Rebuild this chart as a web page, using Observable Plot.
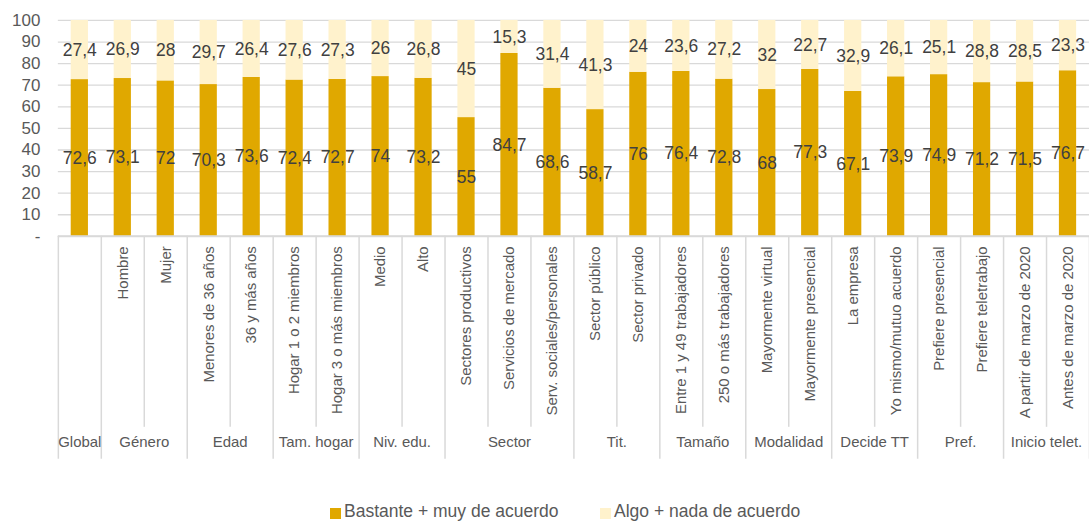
<!DOCTYPE html>
<html>
<head>
<meta charset="utf-8">
<script src="https://cdn.jsdelivr.net/npm/d3@7"></script>
<script src="https://cdn.jsdelivr.net/npm/@observablehq/plot@0.6"></script>
<style>
  html, body { margin: 0; padding: 0; background: #fff; overflow: hidden; width: 1089px; height: 522px; }
  #chart svg { display: block; }
  .legend { position: relative; height: 20px; margin-top: 2px; font: 17.5px "Liberation Sans", Arial, sans-serif; color: #595959; line-height: 20px; white-space: nowrap; }
  .legend .item { position: absolute; top: 0; }
  .legend .sw { position: absolute; top: 7px; width: 11px; height: 11px; }
  .legend .lab { position: absolute; top: 0; left: 14px; }
</style>
</head>
<body>
<div id="chart"></div>
<div class="legend" id="legend"></div>
<script>
const groupLabels = ["Global","Género","Edad","Tam. hogar","Niv. edu.","Sector","Tit.","Tamaño","Modalidad","Decide TT","Pref.","Inicio telet."];
const groupSizes = [1,2,2,2,2,3,2,2,2,2,2,2];
const categories = ["","Hombre","Mujer","Menores de 36 años","36 y más años","Hogar 1 o 2 miembros","Hogar 3 o más miembros","Medio","Alto","Sectores productivos","Servicios de mercado","Serv. sociales/personales","Sector público","Sector privado","Entre 1 y 49 trabajadores","250 o más trabajadores","Mayormente virtual","Mayormente presencial","La empresa","Yo mismo/mutuo acuerdo","Prefiere presencial","Prefiere teletrabajo","A partir de marzo de 2020","Antes de marzo de 2020"];
const bastante = [72.6,73.1,72,70.3,73.6,72.4,72.7,74,73.2,55,84.7,68.6,58.7,76,76.4,72.8,68,77.3,67.1,73.9,74.9,71.2,71.5,76.7];
const algo = [27.4,26.9,28,29.7,26.4,27.6,27.3,26,26.8,45,15.3,31.4,41.3,24,23.6,27.2,32,22.7,32.9,26.1,25.1,28.8,28.5,23.3];
const seriesNames = ["Bastante + muy de acuerdo","Algo + nada de acuerdo"];
const seriesColors = ["#E0A800","#FFF2CC"];
const yTicks = d3.range(0, 101, 10);

const rows = [];
categories.forEach((c, i) => {
  rows.push({i, c, series: seriesNames[0], value: bastante[i]});
  rows.push({i, c, series: seriesNames[1], value: algo[i]});
});
const groupsData = [];
let s = 0;
groupLabels.forEach((g, k) => { groupsData.push({g, start: s, end: s + groupSizes[k]}); s += groupSizes[k]; });
const groupBoundSet = new Set(groupsData.map(d => d.start).concat([categories.length]));
const allBounds = d3.range(0, categories.length + 1);
const minorBounds = allBounds.filter(b => !groupBoundSet.has(b));
const majorBounds = allBounds.filter(b => groupBoundSet.has(b));
const fmt = v => String(v).replace(".", ",");

const chart = Plot.plot({
  width: 1092, height: 500,
  marginLeft: 58, marginRight: 0, marginTop: 20, marginBottom: 263.5,
  style: {fontFamily: "'Liberation Sans', Arial, sans-serif", background: "white", overflow: "visible"},
  x: {type: "linear", domain: [0, categories.length], axis: null},
  y: {domain: [0, 100], axis: null},
  color: {domain: seriesNames, range: seriesColors},
  marks: [
    Plot.gridY(yTicks, {stroke: "#D9D9D9", strokeOpacity: 1, strokeWidth: 1.3}),
    Plot.axisY(yTicks, {tickSize: 0, tickPadding: 18, fontSize: 17, color: "#595959", tickFormat: d => d === 0 ? "-" : d, label: null}),
    Plot.rectY(rows, {x1: "i", x2: d => d.i + 1, y: "value", fill: "series", z: "series", insetLeft: 12.9, insetRight: 12.9}),
    Plot.text(rows, Plot.stackY({x: d => d.i + 0.5, y: "value", z: "series", text: d => fmt(d.value), fill: "#404040", fontSize: 17.5})),
    Plot.ruleY([0], {stroke: "#D9D9D9", strokeWidth: 2}),
    Plot.ruleX(minorBounds, {stroke: "#D9D9D9", strokeWidth: 1.5, insetTop: 216.5, insetBottom: -191.5}),
    Plot.ruleX(majorBounds, {stroke: "#D9D9D9", strokeWidth: 1.5, insetTop: 216.5, insetBottom: -223.5}),
    Plot.text(categories, {x: (d, i) => i + 0.5, text: d => d, frameAnchor: "bottom", rotate: -90, textAnchor: "end", lineAnchor: "middle", dy: 10, fontSize: 15, fill: "#595959"}),
    Plot.text(groupsData, {x: d => (d.start + d.end) / 2, text: "g", frameAnchor: "bottom", dy: 211.5, fontSize: 15, fill: "#595959"})
  ]
});
document.getElementById("chart").appendChild(chart);

const legend = document.getElementById("legend");
const legendLeft = [330, 600];
seriesNames.forEach((name, k) => {
  const item = document.createElement("div");
  item.className = "item";
  item.style.left = legendLeft[k] + "px";
  const sw = document.createElement("span");
  sw.className = "sw";
  sw.style.background = seriesColors[k];
  const lab = document.createElement("span");
  lab.className = "lab";
  lab.textContent = name;
  item.appendChild(sw); item.appendChild(lab);
  legend.appendChild(item);
});
</script>
</body>
</html>
